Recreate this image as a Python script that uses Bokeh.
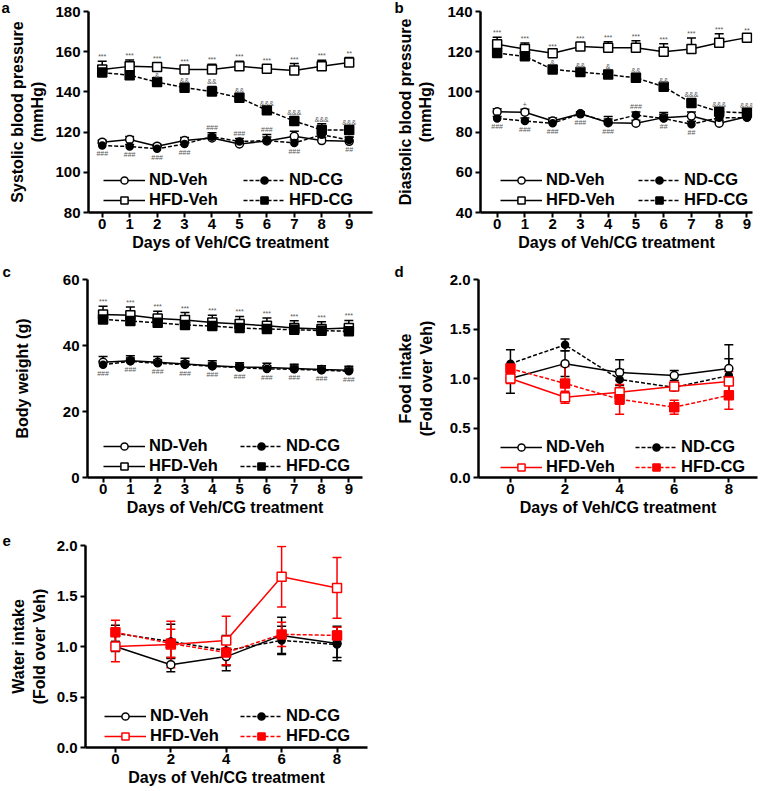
from bokeh.plotting import figure
from bokeh.models import (ColumnDataSource, Whisker, TeeHead, Legend, LegendItem,
                          Title, FixedTicker)
from bokeh.layouts import column, row
from bokeh.core.properties import value
from bokeh.embed import file_html
from bokeh.resources import INLINE

FONT = "Liberation Sans"

# ---------------- data ----------------
days_bp = [0, 1, 2, 3, 4, 5, 6, 7, 8, 9]
days_int = [0, 2, 4, 6, 8]
series_names = ["ND-Veh", "ND-CG", "HFD-Veh", "HFD-CG"]

# a: systolic blood pressure (mmHg)
sbp_nd_veh = [115.0, 116.3, 113.0, 115.8, 117.1, 114.1, 115.6, 117.9, 115.8, 115.4]
sbp_nd_cg = [113.3, 112.8, 111.7, 114.1, 117.7, 115.3, 115.8, 114.6, 118.7, 116.1]
sbp_hfd_veh = [151.2, 152.7, 152.4, 151.2, 151.2, 152.8, 151.5, 150.6, 152.8, 154.6]
sbp_hfd_cg = [149.6, 148.3, 144.9, 142.1, 140.2, 137.1, 130.9, 125.5, 121.1, 121.1]
sbp_nd_veh_err = [1.0, 1.5, 1.0, 1.5, 1.5, 1.5, 2.0, 2.5, 1.5, 2.0]
sbp_nd_cg_err = [1.0, 1.0, 1.0, 1.0, 2.0, 1.5, 3.0, 1.5, 2.0, 1.5]
sbp_hfd_veh_err = [4.0, 3.2, 2.0, 1.8, 2.5, 2.5, 2.0, 3.5, 3.0, 2.5]
sbp_hfd_cg_err = [1.5, 1.5, 1.2, 1.2, 2.5, 1.5, 1.2, 2.0, 3.0, 1.5]
sbp_star = ["***", "***", "***", "***", "***", "***", "***", "***", "***", "**"]
sbp_amp = ["", "", "&", "&&", "&&", "&&", "&&&", "&&&", "&&&", "&&&"]
sbp_hash = ["###", "###", "###", "###", "###", "###", "###", "###", "", "##"]
sbp_hash_pos = ["below", "below", "below", "below", "above", "above", "above", "below", "", "below"]
sbp_plus = ["", "", "", "", "", "", "", "", "", ""]

# b: diastolic blood pressure (mmHg)
dbp_nd_veh = [90.1, 89.9, 85.5, 89.1, 84.7, 84.4, 87.2, 88.0, 84.4, 87.6]
dbp_nd_cg = [86.8, 85.5, 84.4, 89.1, 85.0, 88.5, 86.8, 83.9, 87.2, 87.2]
dbp_hfd_veh = [123.7, 121.3, 119.2, 122.6, 122.0, 122.0, 120.0, 121.3, 124.4, 127.0]
dbp_hfd_cg = [119.3, 117.7, 111.2, 109.9, 108.6, 107.0, 102.6, 94.5, 90.1, 89.6]
dbp_nd_veh_err = [1.5, 1.5, 1.5, 1.0, 3.0, 1.5, 2.5, 2.0, 1.5, 1.0]
dbp_nd_cg_err = [1.0, 1.5, 1.0, 1.0, 1.5, 1.5, 2.0, 1.5, 1.5, 1.0]
dbp_hfd_veh_err = [3.5, 3.0, 1.0, 1.5, 3.0, 3.5, 4.0, 5.5, 4.5, 1.5]
dbp_hfd_cg_err = [1.5, 1.5, 1.0, 1.0, 2.0, 1.5, 1.0, 2.0, 1.5, 1.5]
dbp_star = ["***", "***", "***", "***", "***", "***", "***", "***", "***", "**"]
dbp_amp = ["", "", "&", "&&", "&", "&&", "&&", "&&&", "&&&", "&&&"]
dbp_hash = ["###", "###", "###", "###", "###", "###", "##", "##", "", ""]
dbp_hash_pos = ["below", "below", "below", "below", "below", "above", "below", "below", "", ""]
dbp_plus = ["", "+", "", "", "", "", "", "", "", ""]

# c: body weight (g)
bw_nd_veh = [34.9, 35.4, 34.9, 34.4, 33.9, 33.5, 33.3, 33.0, 32.7, 32.5]
bw_nd_cg = [34.2, 35.2, 34.6, 34.2, 33.7, 33.3, 32.9, 32.8, 32.5, 32.2]
bw_hfd_veh = [49.4, 49.2, 48.2, 47.7, 47.0, 46.5, 46.0, 45.3, 45.0, 45.3]
bw_hfd_cg = [47.9, 47.4, 46.9, 46.2, 45.9, 45.3, 45.0, 44.8, 44.5, 44.3]
bw_nd_veh_err = [1.8, 1.5, 1.8, 1.7, 1.5, 1.3, 1.3, 1.3, 1.2, 1.2]
bw_nd_cg_err = [1.0, 1.0, 1.0, 1.0, 1.0, 1.0, 1.0, 1.0, 1.0, 1.0]
bw_hfd_veh_err = [2.5, 2.5, 2.2, 2.3, 2.2, 2.3, 2.3, 2.2, 2.2, 2.3]
bw_hfd_cg_err = [1.5, 1.5, 1.5, 1.5, 1.5, 1.5, 1.5, 1.5, 1.5, 1.5]
bw_star = ["***", "***", "***", "***", "***", "***", "***", "***", "***", "***"]
bw_amp = ["", "", "", "", "", "", "", "", "", ""]
bw_hash = ["###", "###", "###", "###", "###", "###", "###", "###", "###", "###"]
bw_hash_pos = ["below"] * 10
bw_plus = ["", "", "", "", "", "", "", "", "", ""]

# d: food intake (fold over Veh)
food_nd_veh = [1.00, 1.15, 1.06, 1.03, 1.10]
food_nd_cg = [1.15, 1.34, 0.99, 0.91, 1.03]
food_hfd_veh = [1.00, 0.81, 0.86, 0.92, 0.97]
food_hfd_cg = [1.10, 0.95, 0.79, 0.71, 0.83]
food_nd_veh_err = [0.15, 0.13, 0.13, 0.05, 0.24]
food_nd_cg_err = [0.14, 0.06, 0.10, 0.03, 0.17]
food_hfd_veh_err = [0.05, 0.06, 0.12, 0.03, 0.10]
food_hfd_cg_err = [0.05, 0.17, 0.15, 0.07, 0.14]

# e: water intake (fold over Veh)
water_nd_veh = [1.00, 0.82, 0.90, 1.11, 1.03]
water_nd_cg = [1.13, 1.05, 0.96, 1.06, 1.02]
water_hfd_veh = [1.00, 1.02, 1.06, 1.69, 1.58]
water_hfd_cg = [1.14, 1.03, 0.94, 1.12, 1.11]
water_nd_veh_err = [0.05, 0.07, 0.14, 0.18, 0.17]
water_nd_cg_err = [0.08, 0.17, 0.15, 0.14, 0.13]
water_hfd_veh_err = [0.15, 0.23, 0.24, 0.30, 0.30]
water_hfd_cg_err = [0.12, 0.14, 0.12, 0.12, 0.08]

yticks_sbp = [80, 100, 120, 140, 160, 180]
yticks_dbp = [40, 60, 80, 100, 120, 140]
yticks_bw = [0, 20, 40, 60]
yticks_fold = [0.0, 0.5, 1.0, 1.5, 2.0]
ylabels_fold = ["0.0", "0.5", "1.0", "1.5", "2.0"]
xlabel = "Days of Veh/CG treatment"

# ---------------- styling ----------------
STYLE = {
    "ND-Veh": dict(marker="circle", filled=False, dash="solid", size=8),
    "ND-CG": dict(marker="circle", filled=True, dash="4 2", size=7),
    "HFD-Veh": dict(marker="square", filled=False, dash="solid", size=9),
    "HFD-CG": dict(marker="square", filled=True, dash="4 2", size=9),
}


def style_axis(ax):
    ax.axis_line_width = 2.5
    ax.axis_line_color = "black"
    ax.major_tick_line_width = 2
    ax.major_tick_line_color = "black"
    ax.major_tick_out = 5
    ax.major_tick_in = 0
    ax.minor_tick_line_color = None
    ax.major_label_text_font = FONT
    ax.major_label_text_font_style = "bold"
    ax.major_label_text_font_size = "15px"
    ax.major_label_text_color = "black"
    ax.axis_label_text_font = FONT
    ax.axis_label_text_font_style = "bold"
    ax.axis_label_text_font_size = "16px"
    ax.axis_label_text_color = "black"


def make_panel(letter, x, vals, errs, colors, both, x_range, y_range, yticks, xticks,
               ylabel, ylab_standoff, geom, letter_dx, letter_standoff, leg_pos,
               marks=None, ylab_overrides=None):
    W, H, bl, br, bt, bb = geom
    p = figure(width=W, height=H, x_range=x_range, y_range=y_range,
               output_backend="svg", toolbar_location=None,
               min_border_left=bl, min_border_right=br, min_border_top=bt, min_border_bottom=bb)
    p.outline_line_color = None
    p.grid.visible = False
    p.background_fill_color = "white"
    style_axis(p.xaxis[0])
    style_axis(p.yaxis[0])
    p.xaxis.ticker = FixedTicker(ticks=xticks)
    p.yaxis.ticker = FixedTicker(ticks=yticks)
    if ylab_overrides:
        p.yaxis.major_label_overrides = ylab_overrides
    p.xaxis.axis_label = xlabel
    p.yaxis.axis_label = ylabel
    p.xaxis.major_label_standoff = 1
    p.xaxis.axis_label_standoff = 2
    p.yaxis.major_label_standoff = 3
    p.yaxis.axis_label_standoff = ylab_standoff

    # panel letter as a left-aligned title pushed to the canvas edge
    p.add_layout(Title(text=letter, align="left", offset=-bl + letter_dx,
                       standoff=letter_standoff,
                       text_font=FONT, text_font_style="bold", text_font_size="15px",
                       text_color="black"), "above")

    rends = {}
    for name, v, e, c in zip(series_names, vals, errs, colors):
        hi = [a + b for a, b in zip(v, e)]
        lo = [a - b for a, b in zip(v, e)] if both else list(v)
        src = ColumnDataSource(dict(x=x, y=v, hi=hi, lo=lo))
        w = Whisker(source=src, base="x", upper="hi", lower="lo", dimension="height",
                    line_color=c, line_width=1.5,
                    upper_head=TeeHead(size=9, line_color=c, line_width=1.5),
                    lower_head=TeeHead(size=9, line_color=c, line_width=1.5) if both else None)
        p.add_layout(w)
        rends[name] = src
    glyphs = {}
    for name, c in zip(series_names, colors):
        st = STYLE[name]
        ln = p.line("x", "y", source=rends[name], line_color=c, line_width=1.5,
                    line_dash=st["dash"])
        glyphs[name] = [ln]
    for name, c in zip(series_names, colors):
        st = STYLE[name]
        sc = p.scatter("x", "y", source=rends[name], marker=st["marker"], size=st["size"],
                       line_color=c, line_width=1.5,
                       fill_color=c if st["filled"] else "white")
        glyphs[name].append(sc)

    # significance marks
    if marks is not None:
        star, amp, hsh, hpos, plus = marks
        fh = H - bt - bb
        upp = (y_range[1] - y_range[0]) / fh  # data units per pixel
        nd_v, nd_c, hf_v, hf_c = vals
        nd_ve, nd_ce, hf_ve, hf_ce = errs
        tx, ty, tt, tb = [], [], [], []
        for i, xi in enumerate(x):
            if star[i]:
                tx.append(xi); ty.append(hf_v[i] + hf_ve[i] + 1 * upp); tt.append(star[i]); tb.append("bottom")
            if amp[i]:
                tx.append(xi); ty.append(hf_c[i] + hf_ce[i] + 1 * upp); tt.append(amp[i]); tb.append("bottom")
            if hsh[i]:
                if hpos[i] == "above":
                    top = max(nd_v[i] + nd_ve[i], nd_c[i] + nd_ce[i])
                    tx.append(xi); ty.append(top + 2 * upp); tt.append(hsh[i]); tb.append("bottom")
                else:
                    lowv = min(nd_v[i], nd_c[i])
                    tx.append(xi); ty.append(lowv - 5 * upp); tt.append(hsh[i]); tb.append("top")
            if plus[i]:
                top = max(nd_v[i] + nd_ve[i], nd_c[i] + nd_ce[i])
                tx.append(xi); ty.append(top + 2 * upp); tt.append(plus[i]); tb.append("bottom")
        for base in ("bottom", "top"):
            idx = [k for k in range(len(tx)) if tb[k] == base]
            msrc = ColumnDataSource(dict(x=[tx[k] for k in idx], y=[ty[k] for k in idx],
                                         t=[tt[k] for k in idx]))
            p.text("x", "y", text="t", source=msrc, text_font=value(FONT),
                   text_font_size="7px", text_align="center", text_baseline=base,
                   text_color="#555555")

    # legends (two columns)
    (lx1, lx2, ly) = leg_pos
    for cols, lx in ((["ND-Veh", "HFD-Veh"], lx1), (["ND-CG", "HFD-CG"], lx2)):
        items = [LegendItem(label=n, renderers=glyphs[n]) for n in cols]
        leg = Legend(items=items, location=(lx, ly), border_line_color=None,
                     background_fill_alpha=0, padding=0, margin=0, spacing=1,
                     glyph_width=42, glyph_height=18, label_height=18, label_standoff=4,
                     label_text_font=FONT, label_text_font_style="bold",
                     label_text_font_size="16.5px", label_text_color="black")
        p.add_layout(leg)
    return p


BLACK4 = ["black", "black", "black", "black"]
MIXED4 = ["black", "black", "#ff0000", "#ff0000"]

pa = make_panel("a", days_bp,
                [sbp_nd_veh, sbp_nd_cg, sbp_hfd_veh, sbp_hfd_cg],
                [sbp_nd_veh_err, sbp_nd_cg_err, sbp_hfd_veh_err, sbp_hfd_cg_err],
                BLACK4, False, (-0.5, 9.85), (80, 180), yticks_sbp, days_bp,
                "Systolic blood pressure\n(mmHg)", 6,
                (380, 260, 88, 8, 7, 48), 1, -8, (15, 155, 3),
                marks=(sbp_star, sbp_amp, sbp_hash, sbp_hash_pos, sbp_plus))

pb = make_panel("b", days_bp,
                [dbp_nd_veh, dbp_nd_cg, dbp_hfd_veh, dbp_hfd_cg],
                [dbp_nd_veh_err, dbp_nd_cg_err, dbp_hfd_veh_err, dbp_hfd_cg_err],
                BLACK4, False, (-0.6, 9.2), (40, 140), yticks_dbp, days_bp,
                "Diastolic blood pressure\n(mmHg)", 10,
                (380, 260, 100, 8, 7, 48), 14, -8, (20, 158, 3),
                marks=(dbp_star, dbp_amp, dbp_hash, dbp_hash_pos, dbp_plus))

pc = make_panel("c", days_bp,
                [bw_nd_veh, bw_nd_cg, bw_hfd_veh, bw_hfd_cg],
                [bw_nd_veh_err, bw_nd_cg_err, bw_hfd_veh_err, bw_hfd_cg_err],
                BLACK4, False, (-0.57, 9.5), (0, 60), yticks_bw, days_bp,
                "Body weight (g)", 29,
                (380, 260, 87, 18, 17, 43), 2, 0, (16, 153, 2),
                marks=(bw_star, bw_amp, bw_hash, bw_hash_pos, bw_plus))

pd_ = make_panel("d", days_int,
                 [food_nd_veh, food_nd_cg, food_hfd_veh, food_hfd_cg],
                 [food_nd_veh_err, food_nd_cg_err, food_hfd_veh_err, food_hfd_cg_err],
                 MIXED4, True, (-1.17, 9.05), (0, 2), yticks_fold, days_int,
                 "Food intake\n(Fold over Veh)", 12,
                 (380, 260, 98, 3, 17, 43), 14, 0, (22, 157, 1),
                 ylab_overrides=dict(zip(yticks_fold, ylabels_fold)))

pe = make_panel("e", days_int,
                [water_nd_veh, water_nd_cg, water_hfd_veh, water_hfd_cg],
                [water_nd_veh_err, water_nd_cg_err, water_hfd_veh_err, water_hfd_cg_err],
                MIXED4, True, (-1.08, 9.1), (0, 2), yticks_fold, days_int,
                "Water intake\n(Fold over Veh)", 6,
                (380, 270, 85, 13, 25, 43), 2, 0, (19, 155, 2),
                ylab_overrides=dict(zip(yticks_fold, ylabels_fold)))

layout = column(row(pa, pb), row(pc, pd_), pe)
open("out.html", "w").write(file_html(layout, INLINE))
